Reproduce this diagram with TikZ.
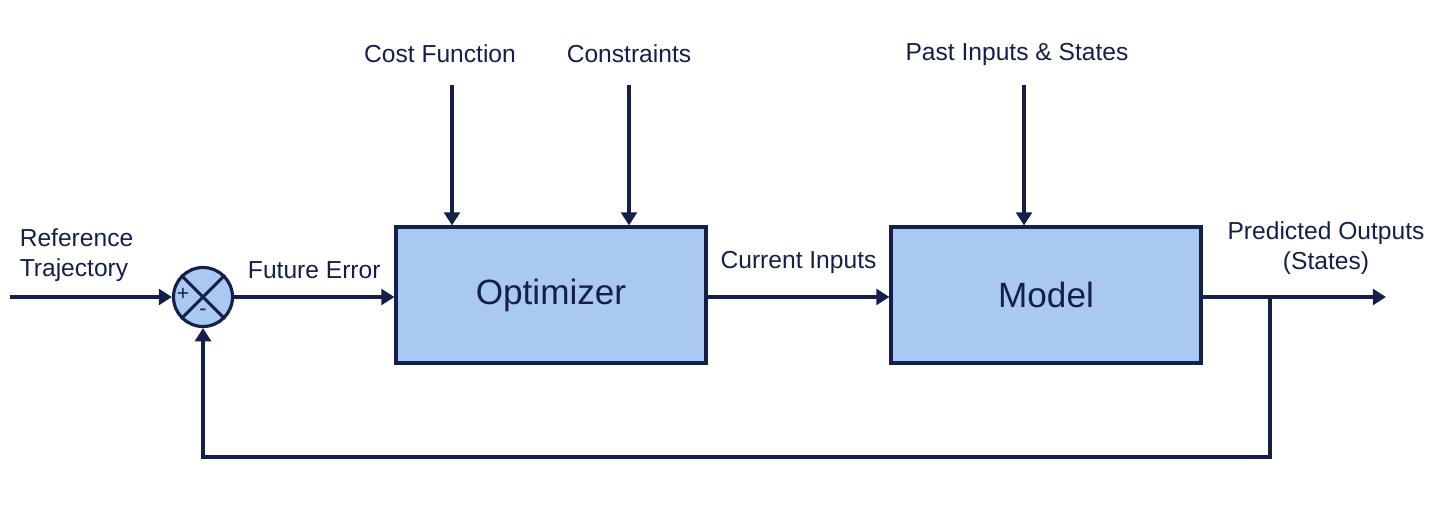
\documentclass[tikz,border=0pt]{standalone}
\usepackage{fontspec}
\setmainfont{Liberation Sans}
\usetikzlibrary{positioning}
\usetikzlibrary{calc}
\usetikzlibrary{arrows.meta}
\definecolor{navy}{HTML}{14204A}
\definecolor{boxblue}{HTML}{A9C9F2}

\begin{document}
\begin{tikzpicture}[x=0.02cm,y=-0.02cm,>={Triangle[length=7.5pt,width=9pt]},
		line width=2.2pt,draw=navy,text=navy]
		\tikzstyle{block}=[draw=navy,fill=boxblue,line width=1.8pt,minimum width=6.2cm,minimum height=2.72cm,font=\fontsize{20}{24}\selectfont]
		\tikzstyle{sum}=[circle,draw=navy,fill=boxblue,line width=1.8pt,minimum size=1.18cm,inner sep=0pt]
		\tikzstyle{lbl}=[font=\fontsize{14}{17}\selectfont,text=navy]
		\useasboundingbox (0,0) rectangle (1442,513);
		
		\node[sum]    (sum)   at (203,297)  {};
		\node[block]  (opt)   at (551,295)  {Optimizer};
		\node[block]  (model) at (1046,295) {Model};
		
		\node[lbl]    (cost)  at (440,54)   {Cost Function};
		\node[lbl]    (cons)  at (629,54)   {Constraints};
		\node[lbl]    (past)  at (1017,54)  {Past Inputs \& States};
		\node[lbl,anchor=west,align=left] (ref) at (12,255) {Reference\\Trajectory};
		\node[lbl,align=center] (pred) at (1326,248) {Predicted Outputs\\(States)};
		
		\coordinate (in)     at (10,297);
		\coordinate (out)    at (1386,297);
		\coordinate (branch) at (1270,297);
		\coordinate (fb)     at (203,457);
		\coordinate (c_0)    at (452,85);
		\coordinate (c_1)    at (629,85);
		\coordinate (c_2)    at (1024,85);
		
		% signal path
		\draw[->] (in) -- (sum.west);
		\path (sum.east) edge[->] node[lbl,above=6pt] {Future Error} (sum.east -| opt.west)
		(opt.east |- sum.east) edge[->] node[lbl,above=9pt] {Current Inputs} (model.west |- sum.east)
		(model.east |- sum.east) edge[->] (out);
		\draw[->] (branch) |- (fb) -- (sum.south);
		
		% top inputs
		\draw[->] (c_0) -- (c_0 |- opt.north);
		\draw[->] (c_1) -- (c_1 |- opt.north);
		\draw[->] (c_2) -- (c_2 |- model.north);
		
		% junction
		\draw[navy,line width=1.8pt] (sum.45) -- (sum.225) (sum.135) -- (sum.-45);
		\node[font=\fontsize{12}{14}\selectfont,text=navy] at ($(sum.center)+(-20,-3)$) {+};
		\node[font=\fontsize{12}{14}\selectfont,text=navy] at ($(sum.center)+(0,15)$) {-};
		\end{tikzpicture}
\end{document}
